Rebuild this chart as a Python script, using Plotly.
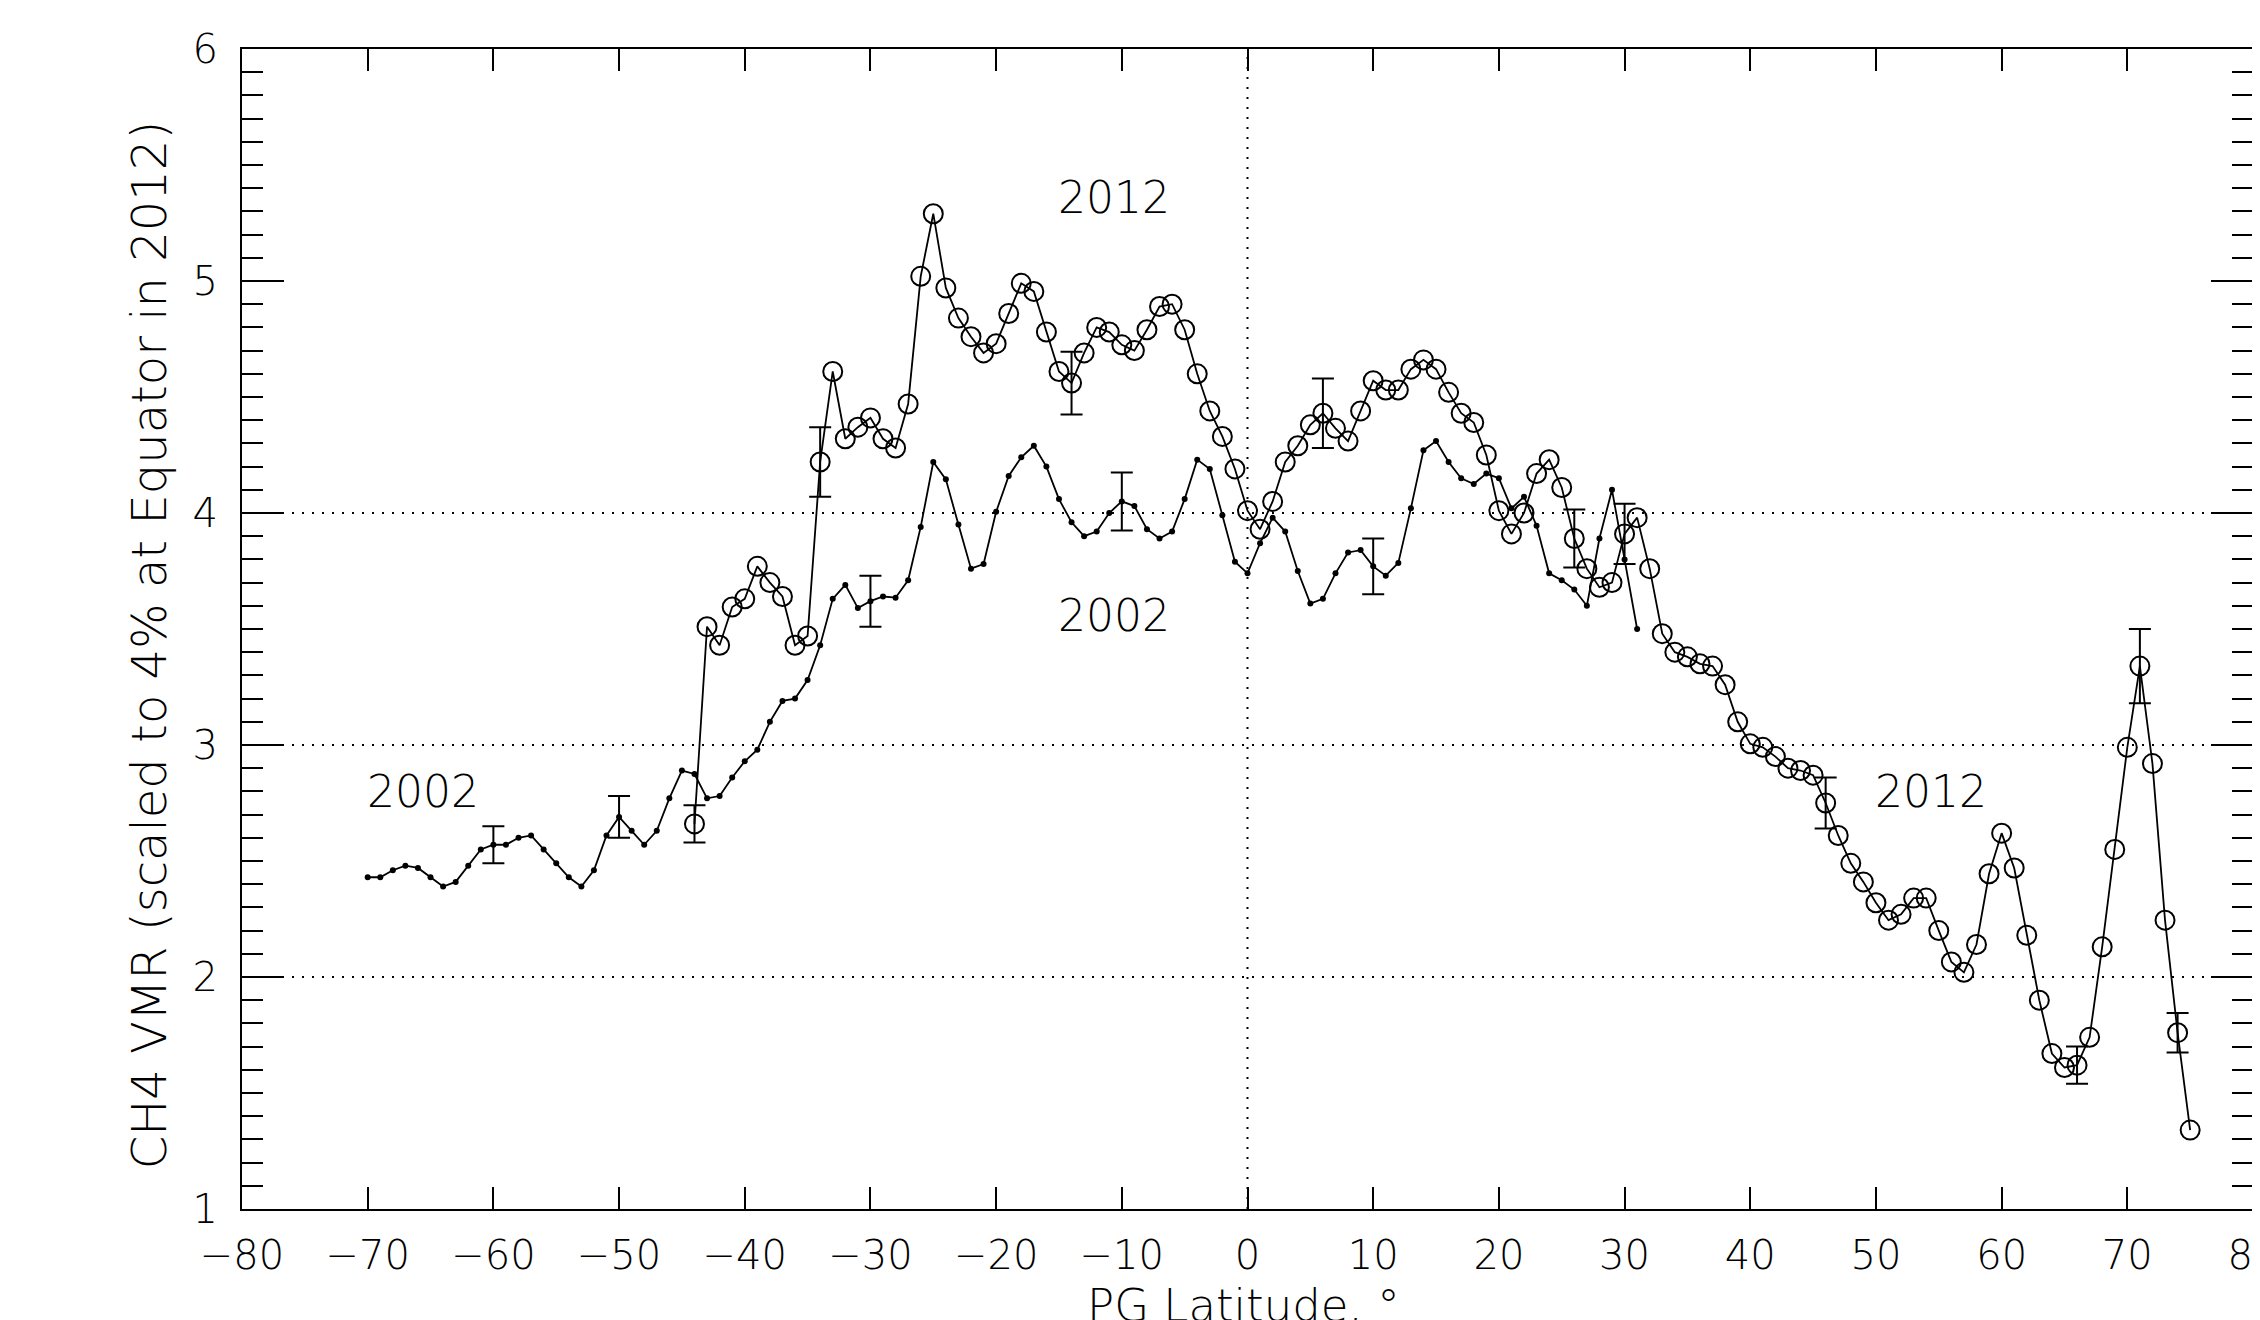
import plotly.graph_objects as go

# ---- data ----
LAT_2002 = list(range(-70, 32))
CH4_2002 = [2.43, 2.43, 2.46, 2.48, 2.47, 2.43, 2.39, 2.41, 2.48, 2.55,
            2.57, 2.57, 2.60, 2.61, 2.55, 2.49, 2.43, 2.39, 2.46, 2.61,
            2.69, 2.63, 2.57, 2.63, 2.77, 2.89, 2.875, 2.77, 2.78, 2.86,
            2.93, 2.98, 3.10, 3.19, 3.20, 3.28, 3.43, 3.63, 3.69, 3.59,
            3.62, 3.64, 3.635, 3.71, 3.94, 4.22, 4.145, 3.95, 3.76, 3.78,
            4.005, 4.16, 4.24, 4.29, 4.20, 4.06, 3.96, 3.90, 3.92, 4.00,
            4.05, 4.03, 3.93, 3.89, 3.92, 4.06, 4.23, 4.19, 3.99, 3.79,
            3.74, 3.87, 3.98, 3.92, 3.75, 3.61, 3.63, 3.74, 3.83, 3.84,
            3.77, 3.73, 3.785, 4.02, 4.27, 4.31, 4.22, 4.15, 4.125, 4.17,
            4.15, 4.02, 4.07, 3.945, 3.74, 3.71, 3.67, 3.60, 3.89, 4.10,
            3.80, 3.50]

LAT_2012 = list(range(-44, 76))
CH4_2012 = [2.66, 3.51, 3.43, 3.595, 3.63, 3.77, 3.70, 3.64, 3.43, 3.47,
            4.22, 4.61, 4.32, 4.37, 4.41, 4.32, 4.28, 4.47, 5.02, 5.29,
            4.97, 4.84, 4.76, 4.69, 4.73, 4.86, 4.99, 4.955, 4.78, 4.61,
            4.56, 4.69, 4.80, 4.78, 4.725, 4.70, 4.79, 4.89, 4.90, 4.79,
            4.60, 4.44, 4.33, 4.19, 4.01, 3.93, 4.05, 4.22, 4.29, 4.38,
            4.43, 4.365, 4.31, 4.44, 4.57, 4.53, 4.53, 4.62, 4.66, 4.62,
            4.52, 4.43, 4.39, 4.25, 4.01, 3.91, 4.00, 4.17, 4.23, 4.11,
            3.89, 3.76, 3.68, 3.70, 3.91, 3.98, 3.76, 3.48, 3.40, 3.38,
            3.35, 3.34, 3.26, 3.10, 3.005, 2.99, 2.95, 2.90, 2.89, 2.87,
            2.75, 2.61, 2.49, 2.41, 2.32, 2.245, 2.27, 2.34, 2.34, 2.20,
            2.065, 2.02, 2.14, 2.445, 2.62, 2.47, 2.18, 1.90, 1.67, 1.61,
            1.62, 1.74, 2.13, 2.55, 2.99, 3.34, 2.92, 2.245, 1.76, 1.34]

ERR_LAT_2002 = [-60, -50, -30, -10, 10]
ERR_2002 = [0.08, 0.09, 0.11, 0.125, 0.12]
ERR_LAT_2012 = [-44, -34, -14, 6, 26, 30, 46, 66, 71, 74]
ERR_2012 = [0.08, 0.15, 0.135, 0.15, 0.125, 0.13, 0.11, 0.08, 0.16, 0.085]

GRID_Y = [2, 3, 4]
GRID_X = [0]

LABELS = [
    ("2012", -10.6, 5.36),
    ("2002", -10.6, 3.56),
    ("2002", -65.6, 2.80),
    ("2012", 54.4, 2.80),
]

X_TITLE = "PG Latitude, °"
Y_TITLE = "CH4 VMR (scaled to 4% at Equator in 2012)"

FONT = "DejaVu Sans, sans-serif"
W = 200

d2002 = dict(zip(LAT_2002, CH4_2002))
d2012 = dict(zip(LAT_2012, CH4_2012))

fig = go.Figure()

fig.add_trace(go.Scatter(
    x=LAT_2002, y=CH4_2002, mode="lines+markers",
    line=dict(color="black", width=1.8),
    marker=dict(symbol="circle", size=6, color="black"),
    showlegend=False))

fig.add_trace(go.Scatter(
    x=LAT_2012, y=CH4_2012, mode="lines+markers",
    line=dict(color="black", width=1.8),
    marker=dict(symbol="circle-open", size=19, color="black", line=dict(width=2)),
    showlegend=False))

fig.add_trace(go.Scatter(
    x=ERR_LAT_2002, y=[d2002[v] for v in ERR_LAT_2002], mode="markers",
    marker=dict(size=1, opacity=0),
    error_y=dict(type="data", array=ERR_2002, visible=True, color="black",
                 thickness=2, width=11),
    showlegend=False))

fig.add_trace(go.Scatter(
    x=ERR_LAT_2012, y=[d2012[v] for v in ERR_LAT_2012], mode="markers",
    marker=dict(size=1, opacity=0),
    error_y=dict(type="data", array=ERR_2012, visible=True, color="black",
                 thickness=2, width=11),
    showlegend=False))

for gy in GRID_Y:
    fig.add_shape(type="line", xref="paper", x0=0, x1=1, yref="y", y0=gy, y1=gy,
                  line=dict(color="black", width=2, dash="2px,8px"), layer="below")
for gx in GRID_X:
    fig.add_shape(type="line", yref="paper", y0=0, y1=1, xref="x", x0=gx, x1=gx,
                  line=dict(color="black", width=2, dash="2px,8px"), layer="below")

for txt, lx, ly in LABELS:
    fig.add_annotation(x=lx, y=ly, text=txt, showarrow=False,
                       font=dict(family=FONT, size=44, color="black", weight=W))

# axis titles
fig.add_annotation(xref="paper", yref="paper", x=0.498, y=-0.0836, text=X_TITLE,
                   showarrow=False, xanchor="center", yanchor="middle",
                   font=dict(family=FONT, size=45, color="black", weight=W))
fig.add_annotation(xref="paper", yref="paper", x=-0.0462, y=0.486, text=Y_TITLE,
                   textangle=-90, showarrow=False, xanchor="center", yanchor="middle",
                   font=dict(family=FONT, size=48, color="black", weight=W))

fig.update_layout(
    width=2260, height=1320,
    margin=dict(l=234, r=15, t=41, b=119),
    paper_bgcolor="white", plot_bgcolor="white",
    font=dict(family=FONT, size=40, color="black", weight=W),
)

fig.update_xaxes(
    range=[-80, 80], tickmode="linear", tick0=-80, dtick=10,
    ticks="inside", ticklen=22, tickwidth=1.5, tickcolor="black",
    showline=True, linewidth=2, linecolor="black", mirror="allticks",
    showgrid=False, zeroline=False, ticklabelstandoff=10, automargin=False,
    ticklabeloverflow="allow",
    tickfont=dict(family=FONT, size=40, weight=W),
)

fig.update_yaxes(
    range=[1, 6], tickmode="linear", tick0=1, dtick=1,
    ticks="inside", ticklen=42, tickwidth=1.5, tickcolor="black",
    minor=dict(dtick=0.1, ticks="inside", ticklen=21, tickwidth=1.5, tickcolor="black",
               showgrid=False),
    showline=True, linewidth=2, linecolor="black", mirror="allticks",
    showgrid=False, zeroline=False, ticklabelstandoff=14, automargin=False,
    tickfont=dict(family=FONT, size=40, weight=W),
)

fig.write_html("out.html")
